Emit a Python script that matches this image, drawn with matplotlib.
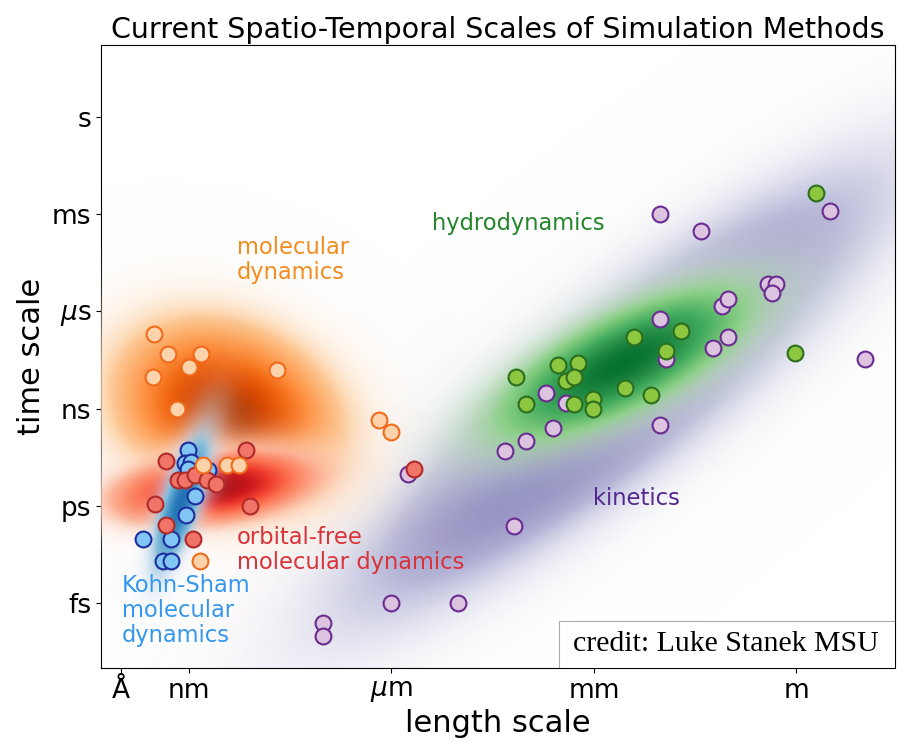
import numpy as np
import matplotlib
matplotlib.use("Agg")
import matplotlib.pyplot as plt
from matplotlib.patches import Rectangle

# log10(length / m), log10(time / s) for each simulation method
ks_x = [-9.01, -9.06, -8.96, -9.01, -8.71, -8.91, -9.04, -9.67, -9.27, -9.38, -9.27]
ks_y = [-10.28, -10.69, -10.64, -10.85, -10.90, -11.70, -12.29, -13.01, -13.01, -13.71, -13.71]

of_x = [-9.33, -8.15, -9.16, -9.06, -8.91, -8.73, -8.60, -9.50, -8.10, -9.33, -8.93, -5.66]
of_y = [-10.62, -10.28, -11.21, -11.21, -11.06, -11.21, -11.31, -11.93, -12.00, -12.60, -13.03, -10.85]

md_x = [-9.52, -9.31, -8.82, -9.00, -9.53, -7.70, -9.17, -8.79, -8.43, -8.25, -6.18, -6.00, -8.84]
md_y = [-6.71, -7.30, -7.30, -7.71, -8.01, -7.82, -9.01, -10.73, -10.73, -10.73, -9.35, -9.71, -13.71]

hd_x = [-4.16, -4.00, -3.53, -3.24, -3.42, -3.30, -3.30, -3.01, -3.01, -2.54, -2.16, -2.41,
        -1.71, -1.93, 0.29, -0.02]
hd_y = [-8.01, -8.84, -7.64, -7.60, -8.16, -8.01, -8.86, -8.71, -9.00, -8.35, -8.59, -6.78,
        -6.61, -7.22, -2.34, -7.27]

kin_x = [-2.02, -1.41, 0.50, -0.42, -0.31, -0.36, -1.10, -1.01, -2.02, -1.01, -1.23, -1.93,
         1.02, -3.71, -3.41, -3.61, -4.00, -4.31, -2.02, -4.19, -5.76, -6.00, -5.01, -7.01, -7.01]
kin_y = [-3.00, -3.51, -2.89, -5.16, -5.16, -5.43, -5.84, -5.63, -6.22, -6.79, -7.14, -7.48,
         -7.46, -8.53, -8.81, -9.60, -10.00, -10.31, -9.51, -12.63, -11.00, -15.00, -15.00,
         -15.62, -16.02]

x_ticks = [-10, -9, -6, -3, 0]
x_labels = ['Å', 'nm', r'$\mu$m', 'mm', 'm']
y_ticks = [0, -3, -6, -9, -12, -15]
y_labels = ['s', 'ms', r'$\mu$s', 'ns', 'ps', 'fs']

XLIM = (-10.3, 1.46)
YLIM = (-17.0, 2.22)


def gauss_blob(ax, xs, ys, cmap, zorder, spread=1.0, gain=2.0, cmax=1.0):
    # shaded gaussian fitted to the group's points
    pts = np.vstack([xs, ys])
    mu = pts.mean(axis=1)
    inv = np.linalg.inv(np.cov(pts) * spread ** 2)
    gx, gy = np.meshgrid(np.linspace(*XLIM, 700), np.linspace(*YLIM, 700))
    dx, dy = gx - mu[0], gy - mu[1]
    m2 = inv[0, 0] * dx * dx + 2 * inv[0, 1] * dx * dy + inv[1, 1] * dy * dy
    d = np.exp(-0.5 * m2)
    rgba = plt.get_cmap(cmap)(cmax * d)
    rgba[..., 3] = np.clip(gain * d, 0, 1)
    ax.imshow(rgba, extent=[*XLIM, *YLIM], origin='lower', aspect='auto',
              interpolation='bilinear', zorder=zorder)


fig = plt.figure(figsize=(8.99, 7.5), dpi=100)
ax = fig.add_axes([0.1123, 0.1093, 0.8833, 0.8307])

gauss_blob(ax, kin_x, kin_y, 'Purples', 1, spread=1.4, gain=1.7, cmax=0.7)
gauss_blob(ax, hd_x, hd_y, 'Greens', 2, spread=1.2, gain=2.0, cmax=0.85)
gauss_blob(ax, md_x, md_y, 'Oranges', 3, spread=1.0, gain=3.0, cmax=0.85)
gauss_blob(ax, of_x, of_y, 'Reds', 4, spread=1.0, gain=3.0, cmax=0.85)
gauss_blob(ax, ks_x, ks_y, 'Blues', 5, spread=1.3, gain=1.8, cmax=0.75)

mk = dict(s=130, linewidths=1.5)
ax.scatter(kin_x, kin_y, facecolor='#dcc3df', edgecolor='#6a2c91', zorder=6, **mk)
ax.scatter(hd_x, hd_y, facecolor='#8dc63f', edgecolor='#2b6e1e', zorder=7, **mk)
ax.scatter(ks_x, ks_y, facecolor='#82c6f5', edgecolor='#1c2e9e', zorder=8, **mk)
ax.scatter(of_x, of_y, facecolor='#f07468', edgecolor='#b02a2a', zorder=9, **mk)
ax.scatter(md_x, md_y, facecolor='#fdd3ac', edgecolor='#f26a1b', zorder=10, **mk)

lbl = dict(fontsize=16.3, linespacing=1.1, zorder=11)
ax.text(-8.29, -3.67, 'molecular\ndynamics', color='#f28c1e', va='top', ha='left', **lbl)
ax.text(-4.12, -3.30, 'hydrodynamics', color='#23852a', ha='center', va='center', **lbl)
ax.text(-2.37, -11.77, 'kinetics', color='#54278f', ha='center', va='center', **lbl)
ax.text(-8.29, -12.63, 'orbital-free\nmolecular dynamics', color='#d9333a',
        va='top', ha='left', **lbl)
ax.text(-9.99, -14.11, 'Kohn-Sham\nmolecular\ndynamics', color='#3597ec',
        va='top', ha='left', **lbl)

# credit box in the lower right corner
ax.add_patch(Rectangle((0.5768, 0.0), 0.4232, 0.0754, transform=ax.transAxes,
                       facecolor='white', edgecolor='#aaaaaa', linewidth=0.8, zorder=12))
ax.text(0.7875, 0.0385, 'credit: Luke Stanek MSU', family='Liberation Serif', fontsize=21.5,
        ha='center', va='center', transform=ax.transAxes, zorder=13)

ax.set_xlim(*XLIM)
ax.set_ylim(*YLIM)
ax.set_xticks(x_ticks)
ax.set_xticklabels(x_labels)
ax.set_yticks(y_ticks)
ax.set_yticklabels(y_labels)
ax.tick_params(labelsize=19)
ax.set_xlabel('length scale', fontsize=22)
ax.set_ylabel('time scale', fontsize=22)
ax.set_title('Current Spatio-Temporal Scales of Simulation Methods', fontsize=20.5, pad=5)

fig.savefig('out.png', dpi=100)
